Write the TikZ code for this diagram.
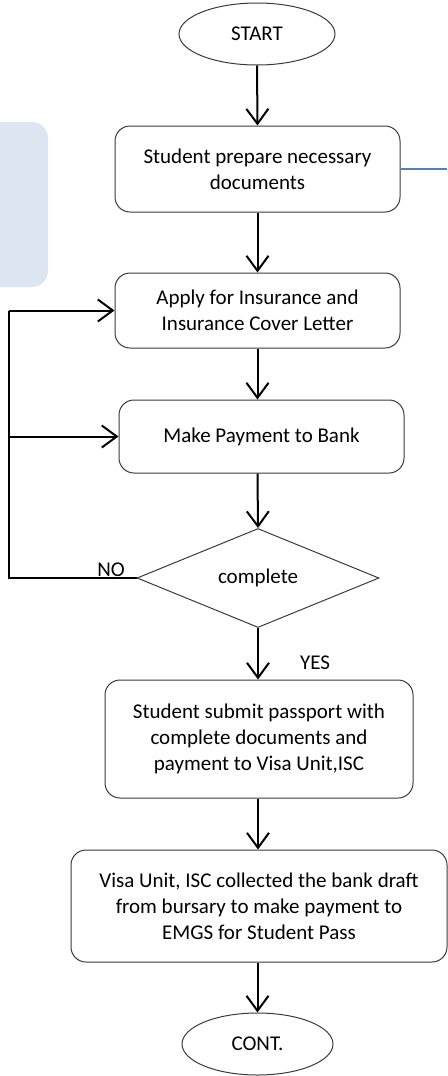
\documentclass[tikz,border=0pt]{standalone}
\usepackage{fontspec}
\setmainfont{Carlito}
\usetikzlibrary{shapes.geometric,arrows.meta}
\definecolor{boxline}{HTML}{3A3A3A}
\definecolor{paleblue}{HTML}{DCE6F2}
\definecolor{linkblue}{HTML}{4F81BD}
\tikzset{
  stepbox/.style={draw=boxline, line width=1pt, rounded corners=15pt, align=center,
    inner sep=0pt, font=\fontsize{21}{26}\selectfont},
  oval/.style={draw=boxline, line width=1pt, ellipse, inner sep=0pt, font=\fontsize{21}{26}\selectfont},
  decision/.style={draw=boxline, line width=1pt, diamond, inner sep=0pt, font=\fontsize{21}{26}\selectfont},
  arr/.style={line width=2pt, -{Straight Barb[length=15pt,width=22pt,line width=2pt]}},
  plain/.style={line width=2pt},
  lbl/.style={font=\fontsize{21}{26}\selectfont, inner sep=0pt}
}
\begin{document}
\begin{tikzpicture}[x=1pt,y=-1pt]
\useasboundingbox (0,0) rectangle (447,1076);
\fill[paleblue, rounded corners=16pt] (-30,122) rectangle (48,287);

\node[oval, minimum width=156pt, minimum height=62pt] (start) at (257,34) {START};
\node[stepbox, minimum width=285pt, minimum height=86pt] (b1) at (257.5,169) {Student prepare necessary\\documents};
\node[stepbox, minimum width=285pt, minimum height=75pt] (b2) at (257.5,310.5) {Apply for Insurance and\\Insurance Cover Letter};
\node[stepbox, minimum width=285pt, minimum height=73pt] (b3) at (261.5,436.5) {Make Payment to Bank};
\node[decision, minimum width=242pt, minimum height=99pt] (dec) at (258,578) {complete};
\node[stepbox, minimum width=308pt, minimum height=118pt] (b4) at (259,739) {Student submit passport with\\complete documents and\\payment to Visa Unit,ISC};
\node[stepbox, minimum width=376pt, minimum height=112pt] (b5) at (259,906) {Visa Unit, ISC collected the bank draft\\from bursary to make payment to\\EMGS for Student Pass};
\node[oval, minimum width=151pt, minimum height=62pt] (cont) at (257.5,1044) {CONT.};

\coordinate (blueend) at (447,169);
\draw[linkblue, line width=1.5pt] (b1.east) -- (blueend);

\draw[arr] (start.south) -- (b1.north);
\draw[arr] (b1.south) -- (b2.north);
\draw[arr] (b2.south) -- (b2.south |- b3.north);
\draw[arr] (b2.south |- b3.south) -- (dec.north);
\draw[arr] (dec.south) -- (dec.south |- b4.north);
\draw[arr] (dec.south |- b4.south) -- (dec.south |- b5.north);
\draw[arr] (cont.north |- b5.south) -- (cont.north);

\coordinate (fl) at (9,578);
\coordinate (ft) at (9,310.5);
\draw[plain] (dec.west) -- (fl) -- (ft);
\draw[arr] (ft) -- (b2.west);
\draw[arr] (fl |- b3.west) -- (b3.west);

\node[lbl, anchor=base] (no) at (111,576) {NO};
\node[lbl, anchor=base] (yes) at (315,669) {YES};
\end{tikzpicture}
\end{document}
